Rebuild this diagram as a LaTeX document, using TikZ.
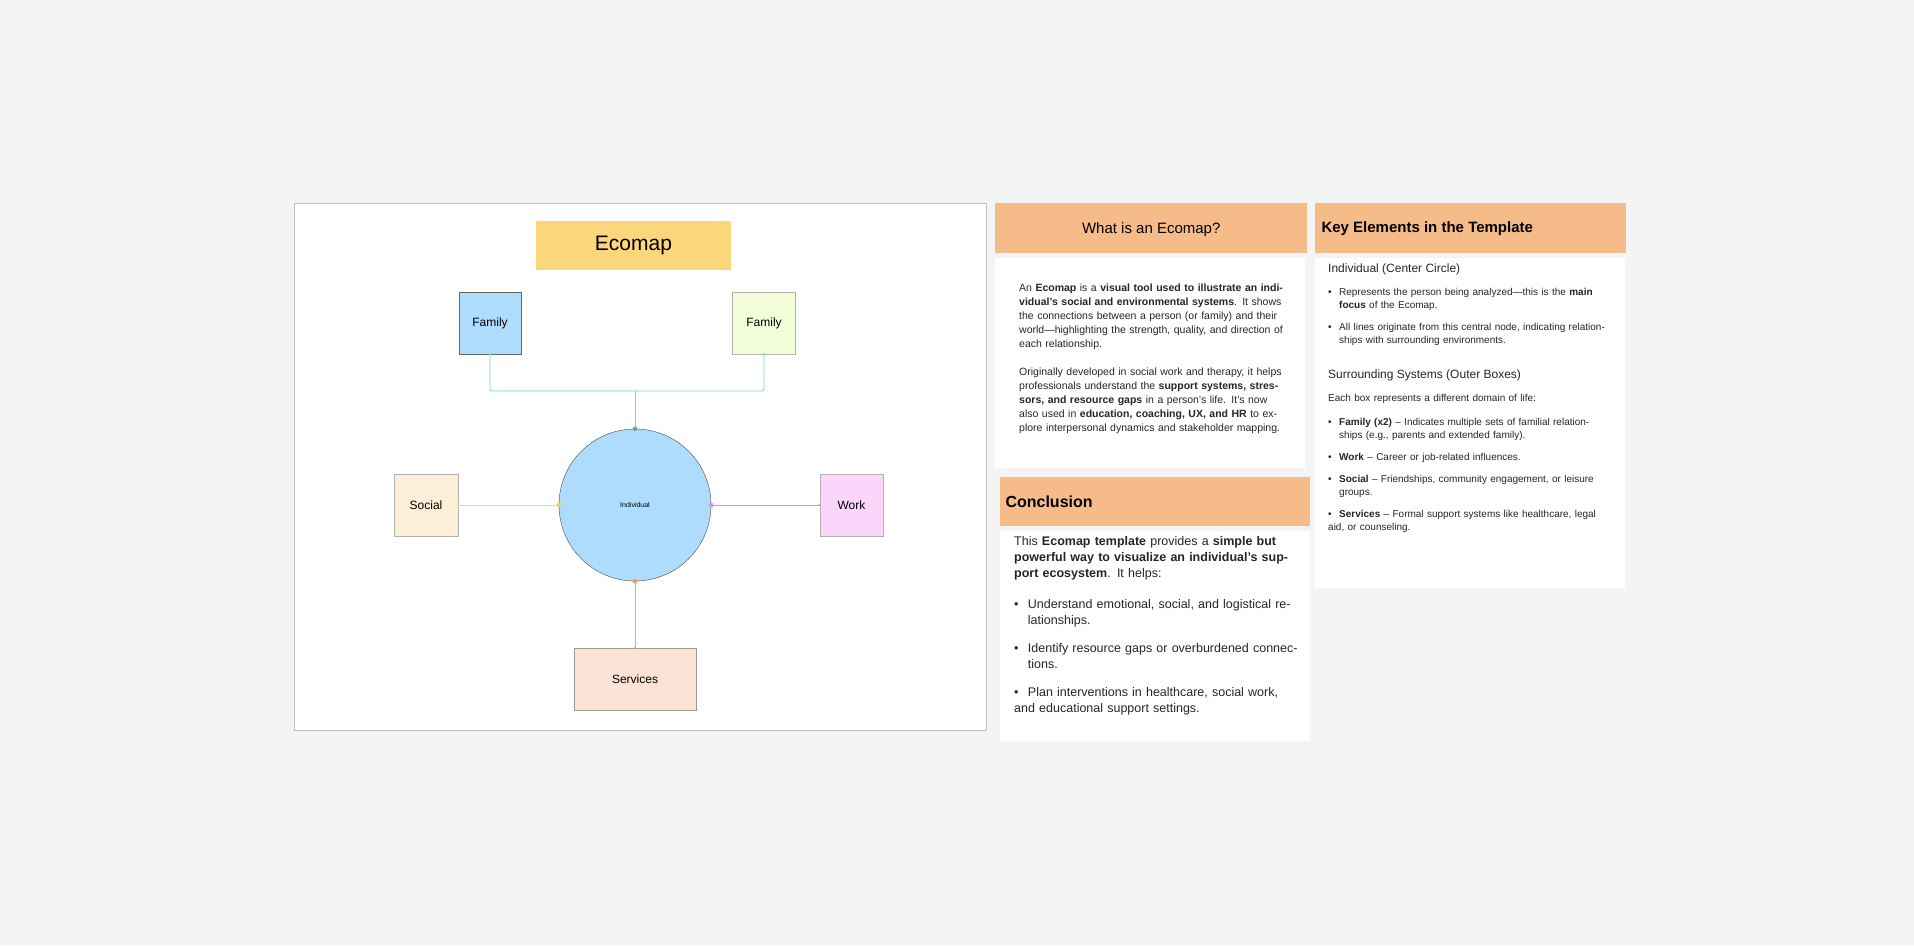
\documentclass[tikz,border=0pt]{standalone}
\usepackage{fontspec}
\setmainfont{Liberation Sans}
\begin{document}
\begin{tikzpicture}[x=1pt,y=-1pt,
 box/.style={draw=#1,line width=0.6pt,inner sep=0pt,anchor=north west},
 hdr/.style={fill=hdrc,inner sep=0pt,anchor=north west},
 txt/.style={anchor=north west,inner sep=0pt,align=left,font=\fontsize{10.5}{14}\selectfont,text=black!85},
 dot/.style={circle,fill=#1,inner sep=1.6pt}]
\definecolor{bg}{HTML}{F4F4F4}
\definecolor{hdrc}{HTML}{F5BB88}
\definecolor{ttl}{HTML}{FCD67A}
\definecolor{fam1}{HTML}{AEDCFC}
\definecolor{fam2}{HTML}{F3FDD9}
\definecolor{soc}{HTML}{FDEFD7}
\definecolor{wrk}{HTML}{FCD6FA}
\definecolor{srv}{HTML}{FDE3D6}
\definecolor{lyel}{HTML}{FCD55A}
\definecolor{lmag}{HTML}{F27CF0}
\definecolor{lora}{HTML}{F5A36B}
\definecolor{lblu}{HTML}{7EC8E8}
\definecolor{ltea}{HTML}{7FD8C0}
\newcommand{\bul}[1]{\par\hangindent=1.1em\hangafter=1\noindent\makebox[1.1em][l]{\textbullet}#1}
\fill[bg] (0,0) rectangle (1914,945);
\useasboundingbox (0,0) rectangle (1914,945);
% left panel
\draw[fill=white,draw=black!25,line width=0.8pt] (294,203) rectangle (986,730);
\node[fill=ttl,minimum width=195pt,minimum height=49pt,font=\fontsize{21}{24}\selectfont] (title) at (633.5,245.5) {Ecomap};
\node[draw=black!60,fill=fam1,minimum width=62pt,minimum height=62pt,font=\fontsize{12}{14}\selectfont] (f1) at (490,323) {Family};
\node[draw=black!30,fill=fam2,minimum width=63pt,minimum height=62pt,font=\fontsize{12}{14}\selectfont] (f2) at (764,323) {Family};
\node[draw=black!30,fill=soc,minimum width=64pt,minimum height=62pt,font=\fontsize{12}{14}\selectfont] (soc) at (426,505) {Social};
\node[draw=black!30,fill=wrk,minimum width=63pt,minimum height=62pt,font=\fontsize{12}{14}\selectfont] (wrk) at (851.5,505) {Work};
\node[draw=black!40,fill=srv,minimum width=122pt,minimum height=62pt,font=\fontsize{12}{14}\selectfont] (srv) at (635,679) {Services};
\node[circle,draw=black!70,fill=fam1,minimum size=152pt,font=\fontsize{7}{8}\selectfont] (ind) at (635,505) {Individual};
\coordinate (j) at (635,391);
\draw[lblu,line width=0.8pt,rounded corners=2pt] (f1.south) |- (j);
\draw[ltea,line width=0.8pt,rounded corners=2pt] (f2.south) |- (j);
\draw[ltea,line width=0.8pt] (j) -- (ind.north);
\draw[lyel,line width=0.8pt] (ind.west) -- (soc.east);
\draw[lmag,line width=0.8pt] (ind.east) -- (wrk.west);
\draw[lora,line width=0.8pt] (ind.south) -- (srv.north);
\node[dot=ltea!80!black] at (ind.north) {};
\node[dot=lyel!90!orange] at (ind.west) {};
\node[dot=lmag] at (ind.east) {};
\node[dot=lora!90!red] at (ind.south) {};
\fill[lblu] (f1.south) circle (1.3pt);
\fill[ltea] (f2.south) circle (1.3pt);
\fill[lyel] (soc.east) circle (1.3pt);
\fill[lmag] (wrk.west) circle (1.3pt);
\fill[lora] (srv.north) circle (1.3pt);
% What is
\node[hdr,minimum width=312pt,minimum height=50pt] (h1) at (995,203) {};
\node[font=\fontsize{15}{18}\selectfont] at ([yshift=-1pt]h1.center) {What is an Ecomap?};
\fill[white] (995,258) rectangle (1305,468);
\node[txt,text width=270pt] (t1) at (1019,284) {An \textbf{Ecomap} is a \textbf{visual tool used to illustrate an individual’s social and environmental systems}. It shows the connections between a person (or family) and their world—highlighting the strength, quality, and direction of each relationship.\par\vspace{14pt}
Originally developed in social work and therapy, it helps professionals understand the \textbf{support systems, stressors, and resource gaps} in a person’s life. It’s now also used in \textbf{education, coaching, UX, and HR} to explore interpersonal dynamics and stakeholder mapping.};
% Key elements
\node[hdr,minimum width=311pt,minimum height=50pt] (h2) at (1315,203) {};
\node[anchor=west,font=\bfseries\fontsize{15}{18}\selectfont] at ([xshift=3pt]h2.west) {Key Elements in the Template};
\fill[white] (1315,258) rectangle (1625,588);
\node[txt,text width=280pt,font=\fontsize{10}{13}\selectfont] (t2) at (1328,264) {{\fontsize{12}{14}\selectfont Individual (Center Circle)}\par\vspace{10pt}
\bul{Represents the person being analyzed—this is the \textbf{main focus} of the Ecomap.}\par\vspace{9pt}
\bul{All lines originate from this central node, indicating relationships with surrounding environments.}\par\vspace{22pt}
{\fontsize{12}{14}\selectfont Surrounding Systems (Outer Boxes)}\par\vspace{10pt}
\noindent Each box represents a different domain of life:\par\vspace{11pt}
\bul{\textbf{Family (x2)} – Indicates multiple sets of familial relationships (e.g., parents and extended family).}\par\vspace{9pt}
\bul{\textbf{Work} – Career or job-related influences.}\par\vspace{9pt}
\bul{\textbf{Social} – Friendships, community engagement, or leisure groups.}\par\vspace{9pt}
\bul{\textbf{Services} – Formal support systems like healthcare, legal aid, or counseling.}};
% Conclusion
\node[hdr,minimum width=310pt,minimum height=49pt] (h3) at (1000,477) {};
\node[anchor=west,font=\bfseries\fontsize{16}{19}\selectfont] at ([xshift=2pt]h3.west) {Conclusion};
\fill[white] (1000,531) rectangle (1310,741);
\node[txt,text width=285pt,font=\fontsize{12.5}{16}\selectfont] (t3) at (1014,536) {This \textbf{Ecomap template} provides a \textbf{simple but powerful way to visualize an individual’s support ecosystem}. It helps:\par\vspace{15pt}
\bul{Understand emotional, social, and logistical relationships.}\par\vspace{12pt}
\bul{Identify resource gaps or overburdened connections.}\par\vspace{12pt}
\bul{Plan interventions in healthcare, social work, and educational support settings.}};
\end{tikzpicture}
\end{document}
